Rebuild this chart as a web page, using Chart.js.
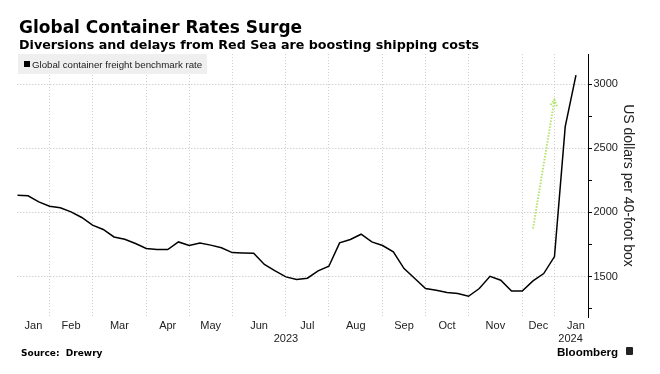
<!DOCTYPE html>
<html>
<head>
<meta charset="utf-8">
<script src="https://cdn.jsdelivr.net/npm/chart.js@4.4.1/dist/chart.umd.min.js"></script>
<style>
  html, body { margin: 0; padding: 0; background: #fff; }
  #wrap { position: relative; width: 660px; height: 374px; overflow: hidden; }
  #wrap canvas { position: absolute; left: 0; top: 0; }
  .txt { position: absolute; white-space: nowrap; line-height: 1; color: #000; }
  #title { left: 19px; top: 16.6px; font: bold 17px "DejaVu Sans", sans-serif; }
  #subtitle { left: 19px; top: 37.3px; font: bold 12.7px "DejaVu Sans", sans-serif; }
  #legend {
    position: absolute; left: 18px; top: 54px; width: 189px; height: 20px;
    background: #efefef; display: flex; align-items: center;
    font: 9.7px "Liberation Sans", sans-serif; color: #222;
  }
  #legend .sw { width: 6px; height: 6px; background: #000; margin: 0 2px 0 6px; }
  #source { left: 21px; top: 348px; font: bold 9px "DejaVu Sans", sans-serif; }
  #brand {
    position: absolute; left: 557px; top: 344px; height: 14px; display: flex; align-items: center;
    font: bold 11.6px "Liberation Sans", sans-serif; color: #000;
  }
  #brand .logo { width: 7px; height: 8px; background: #222; border-radius: 1px; margin-left: 8px; }
</style>
</head>
<body>
<div id="wrap">
  <canvas id="myChart" width="660" height="374"></canvas>
  <div class="txt" id="title">Global Container Rates Surge</div>
  <div class="txt" id="subtitle">Diversions and delays from Red Sea are boosting shipping costs</div>
  <div id="legend"><span class="sw"></span>Global container freight benchmark rate</div>
  <div class="txt" id="source">Source: &nbsp;Drewry</div>
  <div id="brand">Bloomberg<span class="logo"></span></div>
</div>
<script>
// weekly Drewry WCI, Jan 2023 - Jan 2024 (USD per 40ft box)
const rates = [
  2135, 2130, 2083, 2049, 2036, 2005, 1961, 1901, 1867, 1809,
  1791, 1758, 1719, 1711, 1711, 1770, 1742, 1762, 1745, 1724,
  1687, 1684, 1682, 1594, 1544, 1497, 1477, 1487, 1544, 1580,
  1763, 1789, 1830, 1770, 1742, 1692, 1562, 1484, 1406, 1393,
  1375, 1367, 1346, 1406, 1502, 1471, 1387, 1387, 1466, 1523,
  1656, 2670, 3072
];

// month labels and the week index where each new month's gridline sits
const monthNames = ['Jan', 'Feb', 'Mar', 'Apr', 'May', 'Jun', 'Jul', 'Aug', 'Sep', 'Oct', 'Nov', 'Dec', 'Jan'];
const monthBreaks = [3, 7, 12, 16, 20, 25, 29, 34, 38, 42, 47, 50];
const yearNames = ['2023', '2024'];
const yearAt = [25, 51.5];

// y axis
const yTicks = [1250, 1500, 1750, 2000, 2250, 2500, 2750, 3000];

// green "surge" arrow, in week index / dollars
const arrowFrom = [48, 1875];
const arrowTo = [50, 2880];

const xMin = 0, xMax = 53.12;
const yMin = 1184, yMax = 3237;

// build the tick label lookup
const edges = [0].concat(monthBreaks, [54]);
const xLabels = {};
monthBreaks.forEach(v => { xLabels[v] = ''; });
monthNames.forEach((m, i) => { xLabels[(edges[i] + edges[i + 1]) / 2] = m; });
yearNames.forEach((y, i) => {
  const k = yearAt[i];
  xLabels[k] = [xLabels[k] || '', y];
});
const xTickValues = Object.keys(xLabels).map(Number).sort((a, b) => a - b);

const arrowPlugin = {
  id: 'surgeArrow',
  afterDatasetsDraw(chart) {
    const { ctx, scales } = chart;
    const x1 = scales.x.getPixelForValue(arrowFrom[0]);
    const y1 = scales.y.getPixelForValue(arrowFrom[1]);
    const x2 = scales.x.getPixelForValue(arrowTo[0]);
    const y2 = scales.y.getPixelForValue(arrowTo[1]);
    const ang = Math.atan2(y2 - y1, x2 - x1);
    const head = 7;
    ctx.save();
    ctx.strokeStyle = '#b4e46c';
    ctx.lineWidth = 2;
    ctx.setLineDash([1.5, 1.5]);
    ctx.beginPath();
    ctx.moveTo(x1, y1);
    ctx.lineTo(x2, y2);
    ctx.moveTo(x2 - head * Math.cos(ang - 0.5), y2 - head * Math.sin(ang - 0.5));
    ctx.lineTo(x2, y2);
    ctx.lineTo(x2 - head * Math.cos(ang + 0.5), y2 - head * Math.sin(ang + 0.5));
    ctx.stroke();
    ctx.restore();
  }
};

const ctx = document.getElementById('myChart');

new Chart(ctx, {
  type: 'line',
  data: {
    datasets: [{
      label: 'Global container freight benchmark rate',
      data: rates.map((v, i) => ({ x: i, y: v })),
      borderColor: '#000',
      borderWidth: 1.5,
      pointRadius: 0,
      tension: 0,
      fill: false
    }]
  },
  options: {
    responsive: false,
    animation: false,
    events: [],
    layout: { padding: { left: 17.3, right: 0, top: 54, bottom: 27 } },
    plugins: {
      legend: { display: false },
      tooltip: { enabled: false }
    },
    scales: {
      x: {
        type: 'linear',
        min: xMin,
        max: xMax,
        afterBuildTicks: (scale) => {
          scale.ticks = xTickValues.map(v => ({ value: v }));
        },
        afterFit: (scale) => { scale.height = 30; },
        border: { display: false, dash: [1, 2] },
        grid: {
          drawTicks: false,
          lineWidth: 1,
          color: (c) => (c.tick && monthBreaks.includes(c.tick.value)) ? '#cfcfcf' : 'rgba(0,0,0,0)'
        },
        ticks: {
          autoSkip: false,
          maxRotation: 0,
          padding: 3,
          color: '#222',
          font: { family: 'Liberation Sans', size: 11, lineHeight: 1.15 },
          callback: (v) => xLabels[v]
        }
      },
      y: {
        position: 'right',
        min: yMin,
        max: yMax,
        afterBuildTicks: (scale) => {
          scale.ticks = yTicks.map(v => ({ value: v }));
        },
        afterFit: (scale) => { scale.width = 72; },
        border: { display: true, color: '#000', width: 1, dash: [1, 2] },
        grid: {
          drawTicks: true,
          tickLength: 4,
          tickColor: '#000',
          color: (c) => (c.tick && c.tick.value % 500 === 0) ? '#bdbdbd' : 'rgba(0,0,0,0)'
        },
        ticks: {
          padding: 1.5,
          color: '#222',
          font: { family: 'Liberation Sans', size: 11 },
          callback: (v) => (v % 500 === 0 ? String(v) : '')
        },
        title: {
          display: true,
          text: 'US dollars per 40-foot box',
          color: '#222',
          font: { family: 'Liberation Sans', size: 14, lineHeight: 1.2 },
          padding: { top: 23.6, bottom: 0 }
        }
      }
    }
  },
  plugins: [arrowPlugin]
});
</script>
</body>
</html>
